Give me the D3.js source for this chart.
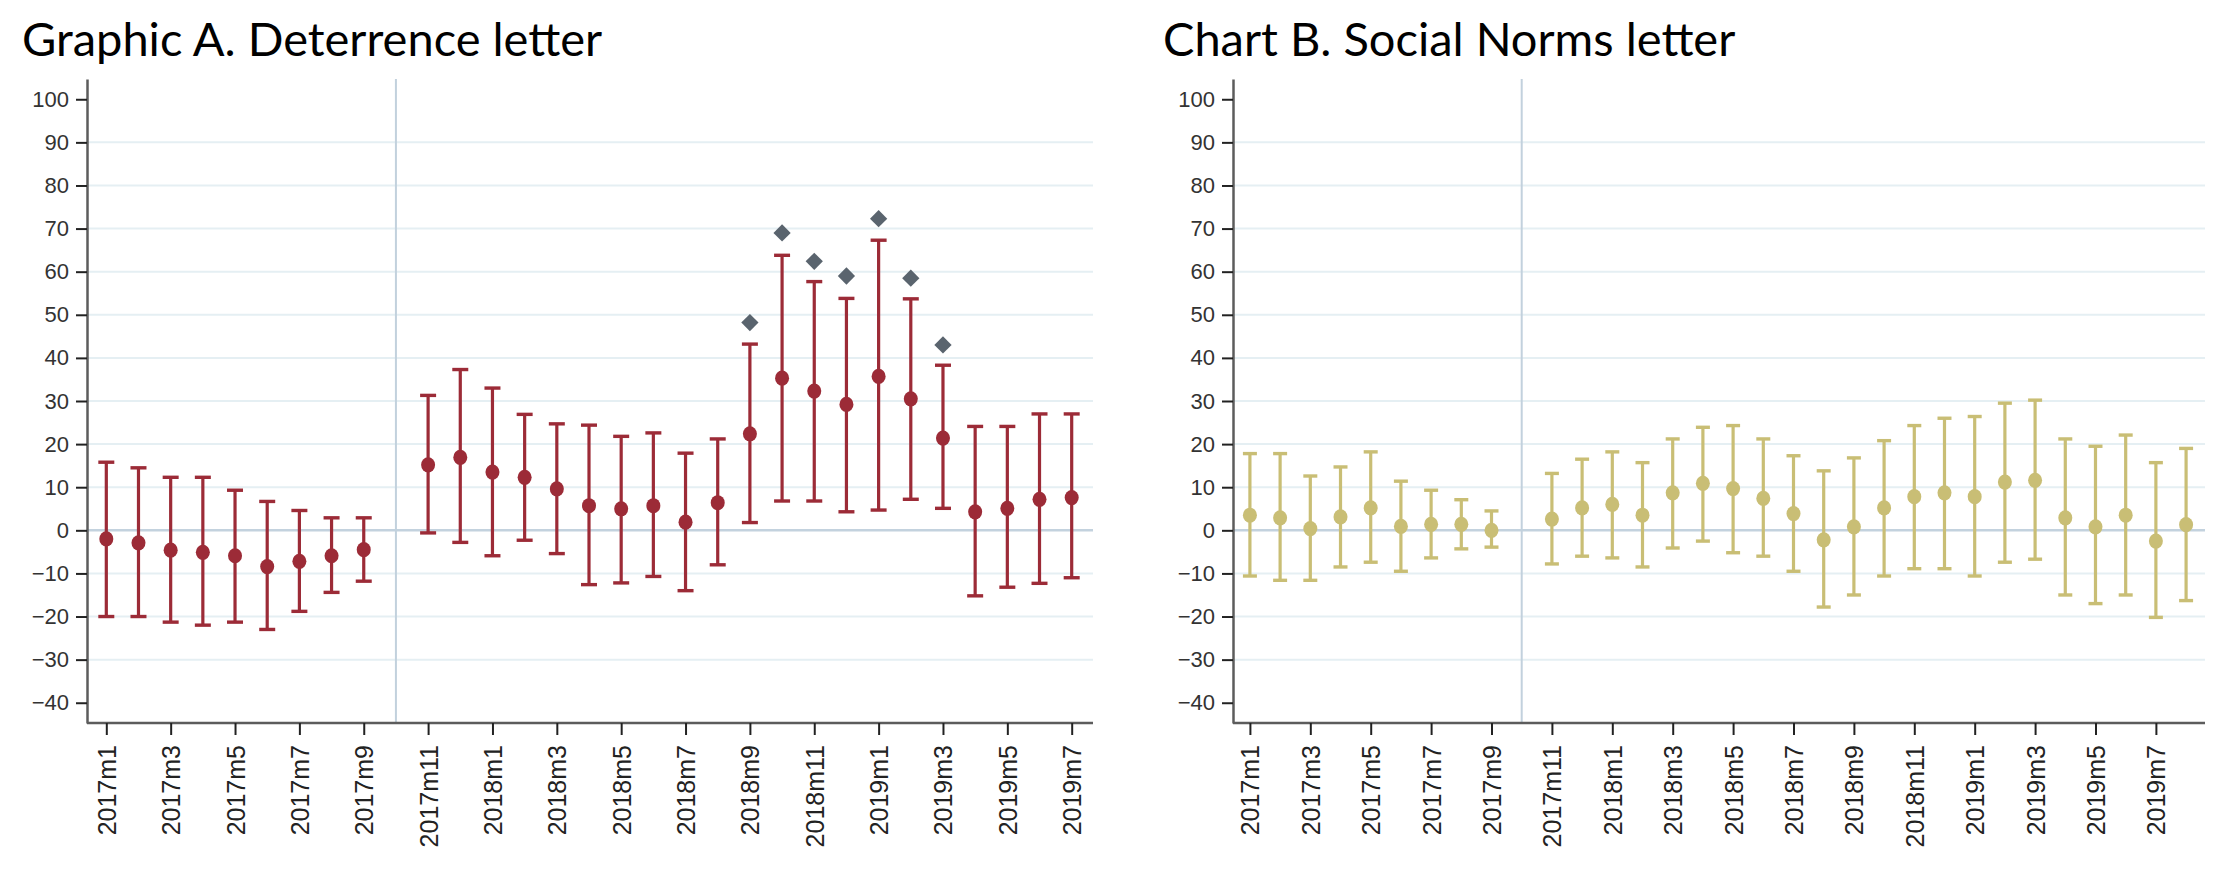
<!DOCTYPE html>
<html>
<head>
<meta charset="utf-8">
<script src="https://cdn.jsdelivr.net/npm/d3@7"></script>
<style>
  html, body { margin: 0; padding: 0; background: #ffffff; }
  svg { display: block; }
</style>
</head>
<body>
<svg id="chart" width="2238" height="874"></svg>
<script>
// ---------------- DATA ----------------
const months = ["2017m1","2017m2","2017m3","2017m4","2017m5","2017m6","2017m7","2017m8","2017m9","2017m10","2017m11","2017m12",
  "2018m1","2018m2","2018m3","2018m4","2018m5","2018m6","2018m7","2018m8","2018m9","2018m10","2018m11","2018m12",
  "2019m1","2019m2","2019m3","2019m4","2019m5","2019m6","2019m7","2019m8"];
const monthsA = months.slice(0, 31);
const monthsB = months.slice(0, 32);
const treatmentMonth = "2017m10";
const yTickValues = [-40,-30,-20,-10,0,10,20,30,40,50,60,70,80,90,100];
const gridValues = [-30,-20,-10,10,20,30,40,50,60,70,80,90];

const titleA = "Graphic A. Deterrence letter";
const titleB = "Chart B. Social Norms letter";

// Panel A: Deterrence letter (point estimate, lower and upper CI, diamond marks)
const deterEst = [-2.0,-2.9,-4.6,-5.1,-5.9,-8.4,-7.2,-5.9,-4.5,null,15.2,16.9,13.5,12.3,9.6,5.7,5.0,5.7,1.9,6.4,22.4,35.3,32.3,29.2,35.7,30.5,21.4,4.3,5.1,7.2,7.6];
const deterLo  = [-20.0,-20.0,-21.3,-22.0,-21.3,-23.0,-18.8,-14.4,-11.8,null,-0.6,-2.8,-5.9,-2.3,-5.4,-12.6,-12.2,-10.7,-14.0,-8.0,1.8,6.8,6.8,4.3,4.7,7.2,5.1,-15.2,-13.2,-12.3,-11.0];
const deterHi  = [15.8,14.5,12.3,12.3,9.3,6.7,4.6,2.9,2.9,null,31.3,37.3,33.0,26.9,24.7,24.4,21.8,22.6,17.9,21.2,43.2,63.8,57.7,53.8,67.3,53.7,38.3,24.1,24.1,27.0,27.0];
const deterDiamond = [null,null,null,null,null,null,null,null,null,null,null,null,null,null,null,null,null,null,null,null,48.2,69.0,62.4,59.0,72.3,58.5,43.0,null,null,null,null];

// Panel B: Social Norms letter
const normsEst = [3.5,2.9,0.4,3.1,5.2,0.9,1.4,1.4,0.0,null,2.6,5.2,6.0,3.5,8.7,10.9,9.7,7.4,3.9,-2.2,0.8,5.2,7.8,8.7,7.8,11.2,11.6,2.9,0.8,3.5,-2.5,1.3];
const normsLo  = [-10.6,-11.6,-11.6,-8.5,-7.4,-9.5,-6.4,-4.3,-3.9,null,-7.8,-6.0,-6.4,-8.5,-4.1,-2.5,-5.2,-6.0,-9.5,-17.8,-15.0,-10.6,-8.9,-8.9,-10.6,-7.4,-6.7,-15.0,-17.0,-15.0,-20.2,-16.3];
const normsHi  = [17.8,17.8,12.6,14.7,18.2,11.4,9.3,7.1,4.5,null,13.2,16.5,18.2,15.7,21.2,23.9,24.3,21.2,17.3,13.8,16.8,20.8,24.3,26.0,26.4,29.5,30.2,21.2,19.5,22.1,15.7,19.0];

// ---------------- DRAW ----------------
const svg = d3.select("#chart");
svg.append("rect").attr("width", 2238).attr("height", 874).attr("fill", "#ffffff");

function panel(opts) {
  const { cats, est, lo, hi, diamonds, color, left, right, padding, title, titleX, capHalf } = opts;
  const top = 79, bottom = 723;
  const x = d3.scalePoint().domain(cats).range([left, right]).padding(padding);
  const y = d3.scaleLinear().domain([-44.7, 104.7]).range([bottom, top]);
  const g = svg.append("g");

  // title
  svg.append("text").attr("x", titleX).attr("y", 56)
    .attr("font-family", "Lato, 'Open Sans', sans-serif").attr("font-size", 47)
    .attr("fill", "#000").text(title);

  // gridlines
  g.selectAll(".grid").data(gridValues).enter().append("line")
    .attr("x1", left).attr("x2", right + 2)
    .attr("y1", d => y(d)).attr("y2", d => y(d))
    .attr("stroke", "#e5eff3").attr("stroke-width", 2);
  // zero line
  g.append("line").attr("x1", left).attr("x2", right + 2)
    .attr("y1", y(0)).attr("y2", y(0))
    .attr("stroke", "#c3d2de").attr("stroke-width", 2.5);
  // treatment vertical line
  g.append("line").attr("x1", x(treatmentMonth)).attr("x2", x(treatmentMonth))
    .attr("y1", top).attr("y2", bottom)
    .attr("stroke", "#c2d1dd").attr("stroke-width", 2);

  const rows = cats.map((c, i) => ({ c, e: est[i], l: lo[i], h: hi[i], d: diamonds ? diamonds[i] : null }))
    .filter(r => r.e !== null);

  // error bars
  const eb = g.selectAll(".eb").data(rows).enter().append("g");
  eb.append("line").attr("x1", d => x(d.c)).attr("x2", d => x(d.c))
    .attr("y1", d => y(d.l)).attr("y2", d => y(d.h))
    .attr("stroke", color).attr("stroke-width", 3.2);
  eb.append("line").attr("x1", d => x(d.c) - capHalf).attr("x2", d => x(d.c) + capHalf)
    .attr("y1", d => y(d.h)).attr("y2", d => y(d.h))
    .attr("stroke", color).attr("stroke-width", 3.4);
  eb.append("line").attr("x1", d => x(d.c) - capHalf).attr("x2", d => x(d.c) + capHalf)
    .attr("y1", d => y(d.l)).attr("y2", d => y(d.l))
    .attr("stroke", color).attr("stroke-width", 3.4);
  // points
  g.selectAll(".pt").data(rows).enter().append("ellipse")
    .attr("cx", d => x(d.c)).attr("cy", d => y(d.e)).attr("rx", 7).attr("ry", 7.6)
    .attr("fill", color);
  // diamonds
  const dia = d3.symbol().type(d3.symbolDiamond2).size(190);
  g.selectAll(".dm").data(rows.filter(r => r.d !== null)).enter().append("path")
    .attr("d", dia)
    .attr("transform", d => `translate(${x(d.c)},${y(d.d)})`)
    .attr("fill", "#5a646e");

  // y axis
  const ya = g.append("g").attr("transform", `translate(${left},0)`)
    .call(d3.axisLeft(y).tickValues(yTickValues).tickSize(11).tickSizeOuter(0).tickPadding(7));
  ya.select(".domain").attr("stroke", "#5c5c5c").attr("stroke-width", 2.5);
  ya.selectAll(".tick line").attr("stroke", "#222").attr("stroke-width", 2);
  ya.selectAll(".tick text").attr("font-family", "'Liberation Sans', Arial, sans-serif")
    .attr("font-size", 22).attr("fill", "#333");

  // x axis
  const xa = g.append("g").attr("transform", `translate(0,${bottom})`)
    .call(d3.axisBottom(x).tickValues(cats.filter((d, i) => i % 2 === 0)).tickSize(12).tickSizeOuter(0));
  xa.select(".domain").attr("stroke", "#5c5c5c").attr("stroke-width", 2.5)
    .attr("d", `M${left},0H${right + 2}`);
  xa.selectAll(".tick line").attr("stroke", "#222").attr("stroke-width", 2);
  xa.selectAll(".tick text")
    .attr("font-family", "'Liberation Sans', Arial, sans-serif").attr("font-size", 25).attr("fill", "#222")
    .attr("transform", "rotate(-90)")
    .attr("text-anchor", "end")
    .attr("x", -22).attr("y", 0).attr("dy", "0.36em");
}

panel({ cats: monthsA, est: deterEst, lo: deterLo, hi: deterHi, diamonds: deterDiamond,
  color: "#9c2b37", left: 87, right: 1091, padding: 0.6, title: titleA, titleX: 22, capHalf: 8 });
panel({ cats: monthsB, est: normsEst, lo: normsLo, hi: normsHi, diamonds: null,
  color: "#c9be75", left: 1233, right: 2203, padding: 0.56, title: titleB, titleX: 1163, capHalf: 7 });
</script>
</body>
</html>
